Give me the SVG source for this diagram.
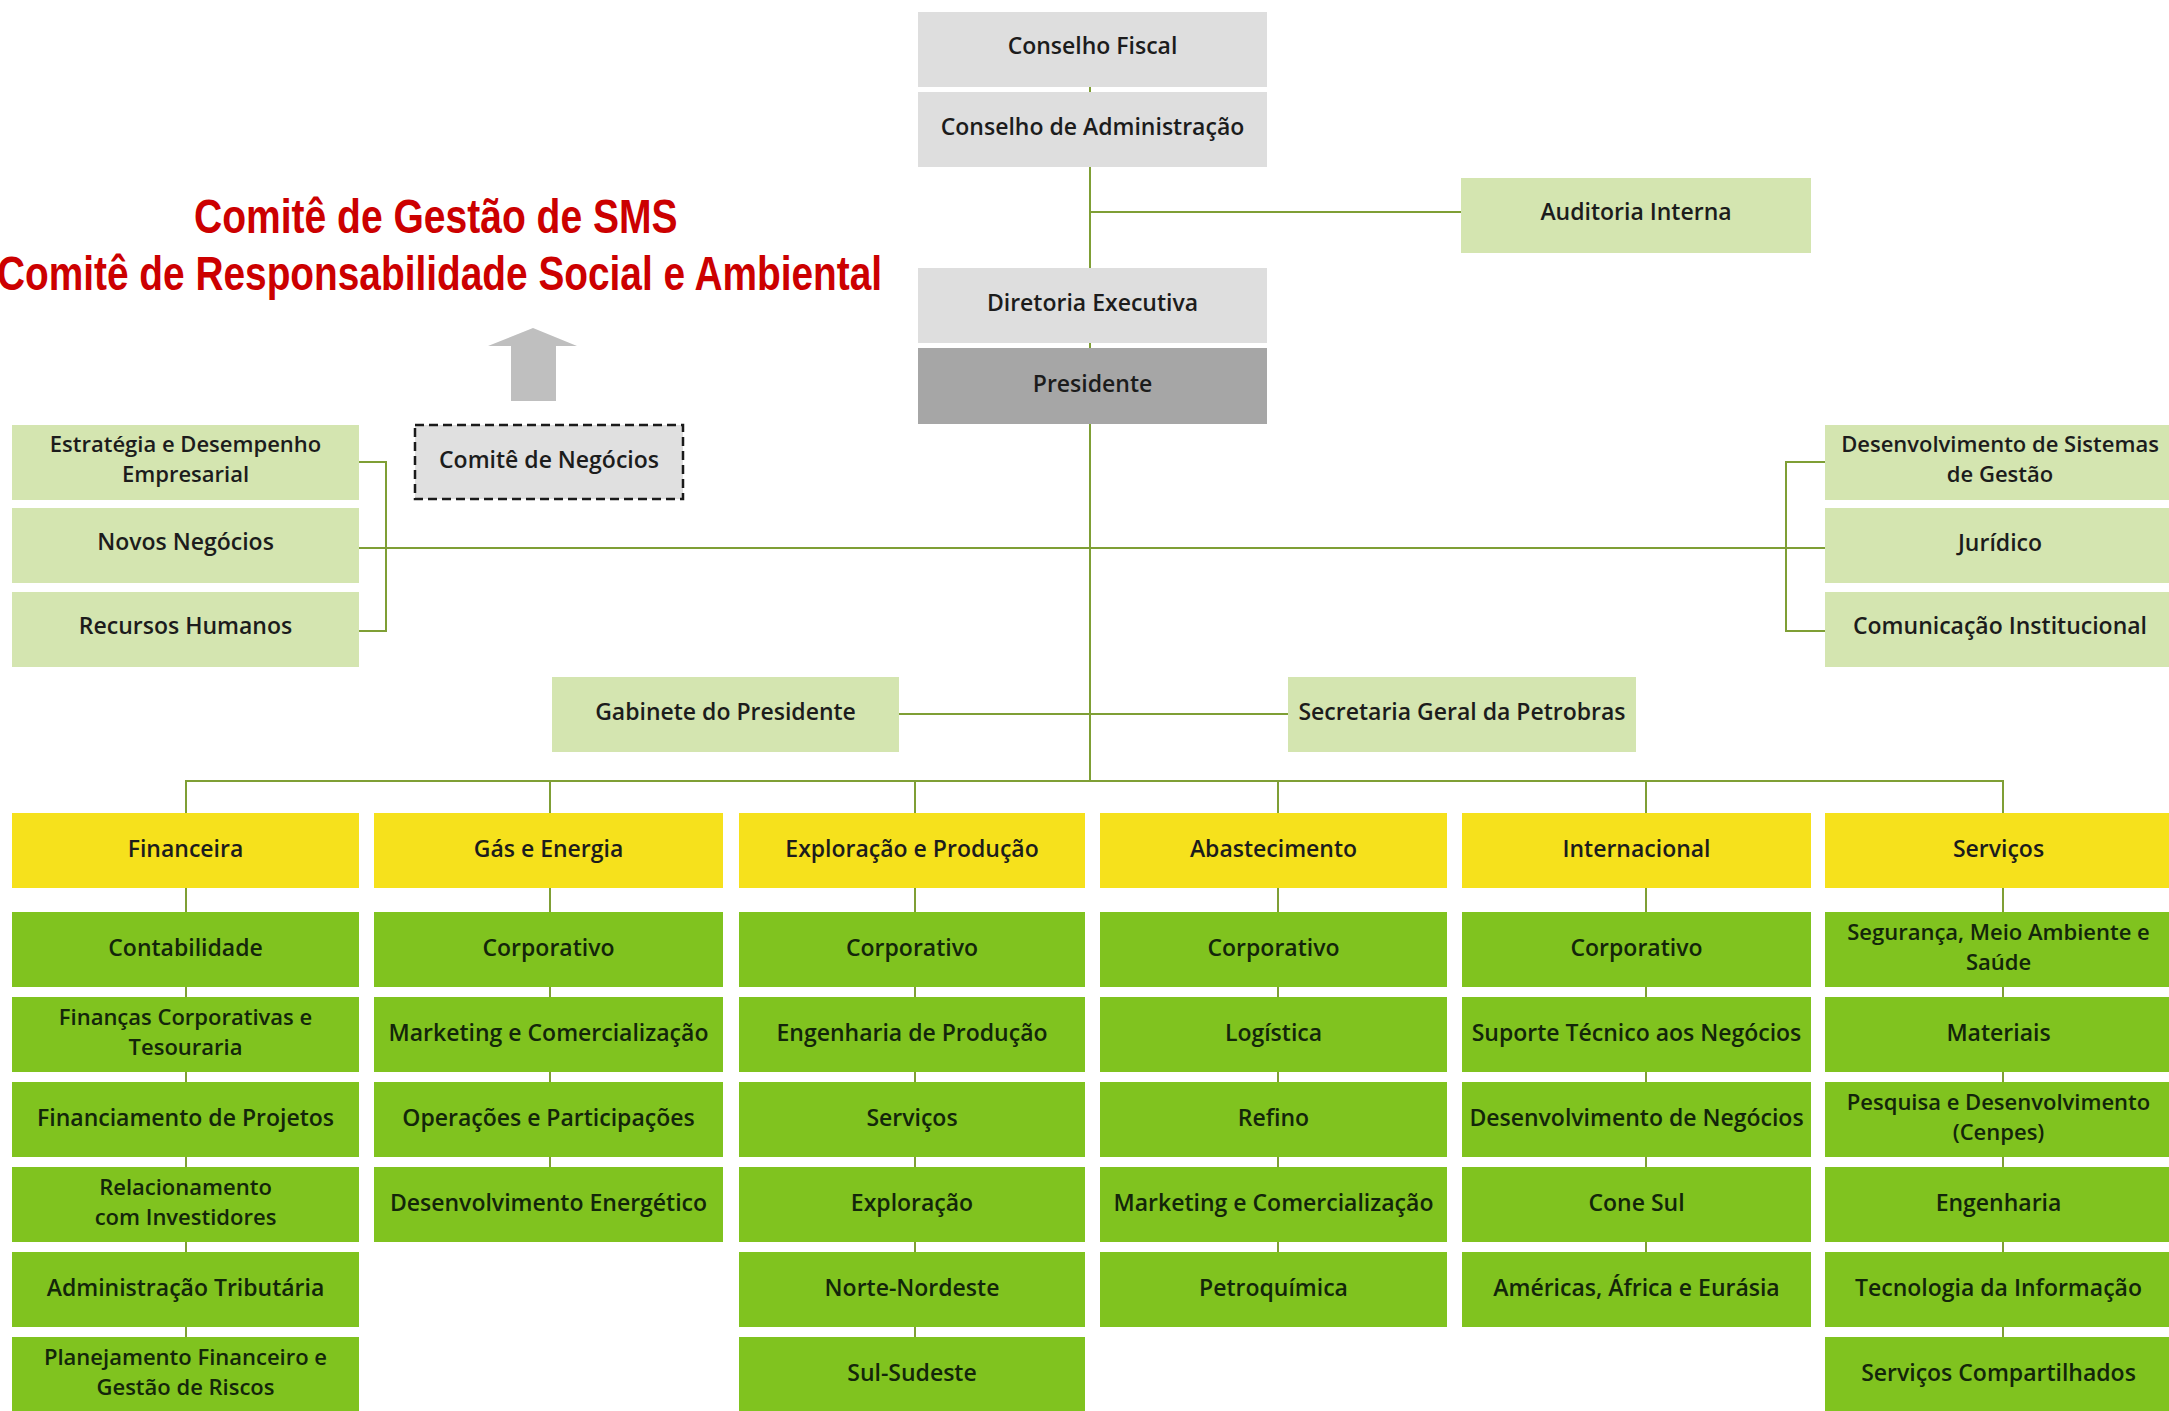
<svg xmlns="http://www.w3.org/2000/svg" width="2169" height="1411" viewBox="0 0 2169 1411">
<style>
.gr{fill:#dedede}
.pr{fill:#a6a6a6}
.lg{fill:#d4e5b0}
.ye{fill:#f6e11c}
.gn{fill:#80c31f}
.dash{fill:#e0e0e0;stroke:#1a1a1a;stroke-width:2.5;stroke-dasharray:9 5}
.t{font-family:"Open Sans","Noto Sans","DejaVu Sans",sans-serif;font-size:23px;font-weight:600;text-anchor:middle;fill:#1c1c1c}
.t2{font-size:22px}
.tg{fill:#13260a}
.conn{stroke:#7f9f35;stroke-width:2;fill:none}
.title{font-family:"Liberation Sans",Arial,sans-serif;font-size:48px;font-weight:bold;fill:#cc0000}
</style>
<rect width="2169" height="1411" fill="#ffffff"/>

<g id="connectors">
<path class="conn" d="M1090 87V781"/>
<path class="conn" d="M1090 212H1461"/>
<path class="conn" d="M359 548H1825"/>
<path class="conn" d="M359 462H386V631H359"/>
<path class="conn" d="M1825 462H1786V631H1825"/>
<path class="conn" d="M899 714H1288"/>
<path class="conn" d="M186 813V781H2003V813"/>
<path class="conn" d="M186 781V1337"/>
<path class="conn" d="M550 781V1167"/>
<path class="conn" d="M915 781V1337"/>
<path class="conn" d="M1278 781V1252"/>
<path class="conn" d="M1646 781V1252"/>
<path class="conn" d="M2003 781V1337"/>
</g>

<g id="titles">
<text class="title" transform="translate(194,233) scale(0.813,1)">Comitê de Gestão de SMS</text>
<text class="title" transform="translate(-3,290) scale(0.809,1)">Comitê de Responsabilidade Social e Ambiental</text>
</g>
<g id="arrow-up">
<polygon points="533,328 577,346 556,346 556,401 511,401 511,346 488,346" fill="#bfbfbf"/>
</g>

<g id="conselho-fiscal"><rect class="gr" x="918" y="12" width="349" height="75"/><text class="t" x="1092.5" y="54">Conselho Fiscal</text></g>
<g id="conselho-administracao"><rect class="gr" x="918" y="92" width="349" height="75"/><text class="t" x="1092.5" y="135">Conselho de Administração</text></g>
<g id="auditoria-interna"><rect class="lg" x="1461" y="178" width="350" height="75"/><text class="t" x="1636" y="220">Auditoria Interna</text></g>
<g id="diretoria-executiva"><rect class="gr" x="918" y="268" width="349" height="75"/><text class="t" x="1092.5" y="311">Diretoria Executiva</text></g>
<g id="presidente"><rect class="pr" x="918" y="348" width="349" height="76"/><text class="t" x="1092.5" y="392">Presidente</text></g>

<g id="comite-negocios"><rect class="dash" x="415" y="425" width="268" height="74"/><text class="t" x="549" y="468">Comitê de Negócios</text></g>

<g id="estrategia"><rect class="lg" x="12" y="425" width="347" height="75"/><text class="t t2"><tspan x="185.5" y="452">Estratégia e Desempenho</tspan><tspan x="185.5" y="482">Empresarial</tspan></text></g>
<g id="novos-negocios"><rect class="lg" x="12" y="508" width="347" height="75"/><text class="t" x="185.5" y="550">Novos Negócios</text></g>
<g id="recursos-humanos"><rect class="lg" x="12" y="592" width="347" height="75"/><text class="t" x="185.5" y="634">Recursos Humanos</text></g>

<g id="desenvolvimento-sistemas"><rect class="lg" x="1825" y="425" width="350" height="75"/><text class="t t2"><tspan x="2000" y="452">Desenvolvimento de Sistemas</tspan><tspan x="2000" y="482">de Gestão</tspan></text></g>
<g id="juridico"><rect class="lg" x="1825" y="508" width="350" height="75"/><text class="t" x="2000" y="551">Jurídico</text></g>
<g id="comunicacao"><rect class="lg" x="1825" y="592" width="350" height="75"/><text class="t" x="2000" y="634">Comunicação Institucional</text></g>

<g id="gabinete"><rect class="lg" x="552" y="677" width="347" height="75"/><text class="t" x="725.5" y="720">Gabinete do Presidente</text></g>
<g id="secretaria"><rect class="lg" x="1288" y="677" width="348" height="75"/><text class="t" x="1462" y="720">Secretaria Geral da Petrobras</text></g>

<g id="financeira"><rect class="ye" x="12" y="813" width="347" height="75"/><text class="t" x="185.5" y="857">Financeira</text></g>
<g id="gas-energia"><rect class="ye" x="374" y="813" width="349" height="75"/><text class="t" x="548.5" y="857">Gás e Energia</text></g>
<g id="exploracao-producao"><rect class="ye" x="739" y="813" width="346" height="75"/><text class="t" x="912" y="857">Exploração e Produção</text></g>
<g id="abastecimento"><rect class="ye" x="1100" y="813" width="347" height="75"/><text class="t" x="1273.5" y="857">Abastecimento</text></g>
<g id="internacional"><rect class="ye" x="1462" y="813" width="349" height="75"/><text class="t" x="1636.5" y="857">Internacional</text></g>
<g id="servicos"><rect class="ye" x="1825" y="813" width="350" height="75"/><text class="t" x="1998.5" y="857">Serviços</text></g>

<g id="fin-contabilidade"><rect class="gn" x="12" y="912" width="347" height="75"/><text class="t tg" x="185.5" y="955.5">Contabilidade</text></g>
<g id="fin-financas"><rect class="gn" x="12" y="997" width="347" height="75"/><text class="t t2 tg"><tspan x="185.5" y="1024.5">Finanças Corporativas e</tspan><tspan x="185.5" y="1054.5">Tesouraria</tspan></text></g>
<g id="fin-financiamento"><rect class="gn" x="12" y="1082" width="347" height="75"/><text class="t tg" x="185.5" y="1125.5">Financiamento de Projetos</text></g>
<g id="fin-relacionamento"><rect class="gn" x="12" y="1167" width="347" height="75"/><text class="t t2 tg"><tspan x="185.5" y="1194.5">Relacionamento</tspan><tspan x="185.5" y="1224.5">com Investidores</tspan></text></g>
<g id="fin-tributaria"><rect class="gn" x="12" y="1252" width="347" height="75"/><text class="t tg" x="185.5" y="1295.5">Administração Tributária</text></g>
<g id="fin-planejamento"><rect class="gn" x="12" y="1337" width="347" height="75"/><text class="t t2 tg"><tspan x="185.5" y="1364.5">Planejamento Financeiro e</tspan><tspan x="185.5" y="1394.5">Gestão de Riscos</tspan></text></g>

<g id="gas-corporativo"><rect class="gn" x="374" y="912" width="349" height="75"/><text class="t tg" x="548.5" y="955.5">Corporativo</text></g>
<g id="gas-marketing"><rect class="gn" x="374" y="997" width="349" height="75"/><text class="t tg" x="548.5" y="1040.5">Marketing e Comercialização</text></g>
<g id="gas-operacoes"><rect class="gn" x="374" y="1082" width="349" height="75"/><text class="t tg" x="548.5" y="1125.5">Operações e Participações</text></g>
<g id="gas-desenvolvimento"><rect class="gn" x="374" y="1167" width="349" height="75"/><text class="t tg" x="548.5" y="1210.5">Desenvolvimento Energético</text></g>

<g id="ep-corporativo"><rect class="gn" x="739" y="912" width="346" height="75"/><text class="t tg" x="912" y="955.5">Corporativo</text></g>
<g id="ep-engenharia"><rect class="gn" x="739" y="997" width="346" height="75"/><text class="t tg" x="912" y="1040.5">Engenharia de Produção</text></g>
<g id="ep-servicos"><rect class="gn" x="739" y="1082" width="346" height="75"/><text class="t tg" x="912" y="1125.5">Serviços</text></g>
<g id="ep-exploracao"><rect class="gn" x="739" y="1167" width="346" height="75"/><text class="t tg" x="912" y="1210.5">Exploração</text></g>
<g id="ep-norte"><rect class="gn" x="739" y="1252" width="346" height="75"/><text class="t tg" x="912" y="1295.5">Norte-Nordeste</text></g>
<g id="ep-sul"><rect class="gn" x="739" y="1337" width="346" height="75"/><text class="t tg" x="912" y="1380.5">Sul-Sudeste</text></g>

<g id="ab-corporativo"><rect class="gn" x="1100" y="912" width="347" height="75"/><text class="t tg" x="1273.5" y="955.5">Corporativo</text></g>
<g id="ab-logistica"><rect class="gn" x="1100" y="997" width="347" height="75"/><text class="t tg" x="1273.5" y="1040.5">Logística</text></g>
<g id="ab-refino"><rect class="gn" x="1100" y="1082" width="347" height="75"/><text class="t tg" x="1273.5" y="1125.5">Refino</text></g>
<g id="ab-marketing"><rect class="gn" x="1100" y="1167" width="347" height="75"/><text class="t tg" x="1273.5" y="1210.5">Marketing e Comercialização</text></g>
<g id="ab-petroquimica"><rect class="gn" x="1100" y="1252" width="347" height="75"/><text class="t tg" x="1273.5" y="1295.5">Petroquímica</text></g>

<g id="in-corporativo"><rect class="gn" x="1462" y="912" width="349" height="75"/><text class="t tg" x="1636.5" y="955.5">Corporativo</text></g>
<g id="in-suporte"><rect class="gn" x="1462" y="997" width="349" height="75"/><text class="t tg" x="1636.5" y="1040.5">Suporte Técnico aos Negócios</text></g>
<g id="in-desenvolvimento"><rect class="gn" x="1462" y="1082" width="349" height="75"/><text class="t tg" x="1636.5" y="1125.5">Desenvolvimento de Negócios</text></g>
<g id="in-conesul"><rect class="gn" x="1462" y="1167" width="349" height="75"/><text class="t tg" x="1636.5" y="1210.5">Cone Sul</text></g>
<g id="in-americas"><rect class="gn" x="1462" y="1252" width="349" height="75"/><text class="t tg" x="1636.5" y="1295.5">Américas, África e Eurásia</text></g>

<g id="sv-sms"><rect class="gn" x="1825" y="912" width="350" height="75"/><text class="t t2 tg"><tspan x="1998.5" y="939.5">Segurança, Meio Ambiente e</tspan><tspan x="1998.5" y="969.5">Saúde</tspan></text></g>
<g id="sv-materiais"><rect class="gn" x="1825" y="997" width="350" height="75"/><text class="t tg" x="1998.5" y="1040.5">Materiais</text></g>
<g id="sv-cenpes"><rect class="gn" x="1825" y="1082" width="350" height="75"/><text class="t t2 tg"><tspan x="1998.5" y="1109.5">Pesquisa e Desenvolvimento</tspan><tspan x="1998.5" y="1139.5">(Cenpes)</tspan></text></g>
<g id="sv-engenharia"><rect class="gn" x="1825" y="1167" width="350" height="75"/><text class="t tg" x="1998.5" y="1210.5">Engenharia</text></g>
<g id="sv-ti"><rect class="gn" x="1825" y="1252" width="350" height="75"/><text class="t tg" x="1998.5" y="1295.5">Tecnologia da Informação</text></g>
<g id="sv-compartilhados"><rect class="gn" x="1825" y="1337" width="350" height="75"/><text class="t tg" x="1998.5" y="1380.5">Serviços Compartilhados</text></g>
</svg>
